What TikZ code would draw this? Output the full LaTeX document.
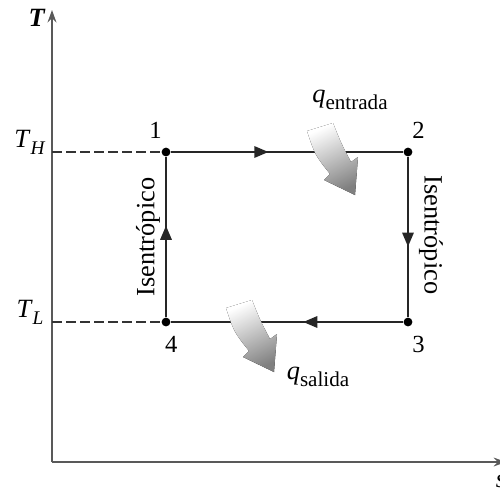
\documentclass[tikz,border=0pt]{standalone}
\usepackage{fontspec}
\setmainfont{Liberation Serif}
\usetikzlibrary{arrows.meta, positioning, decorations.markings}

\tikzset{
    heatarrow/.pic={
        \fill[heat] (-48,-64) .. controls (-40,-40) .. (-25,-21) -- (-31,-15) -- (0,0) -- (3,-38) -- (-4,-33) .. controls (-14,-52) .. (-22,-72) -- cycle;
    },
}

\begin{document}
\begin{tikzpicture}[x=0.02cm, y=-0.02cm,
    line/.style={line width=1.1pt, black!85},
    axis/.style={line width=1.1pt, black!65, -{Stealth[length=7pt, width=5pt]}},
    guide/.style={line width=0.9pt, black!80, dash pattern=on 5.5pt off 2.5pt},
    dot/.style={circle, fill=black, inner sep=0pt, minimum size=5pt},
    num/.style={font=\fontsize{14}{16}\selectfont, inner sep=1pt},
    lbl/.style={font=\fontsize{15}{17}\selectfont, inner sep=1pt},
    mid/.style={postaction={decorate, decoration={markings, mark=at position #1 with {\arrow{Triangle[length=8pt, width=6.5pt]}}}}},
    heat/.style={top color=white, bottom color=black!50, shading angle=25},
]
\useasboundingbox (0,0) rectangle (500,491);

\coordinate (o) at (52,462);
\coordinate (ytop) at (52,10);
\coordinate (xend) at (506,462);
\draw[axis] (o) -- (ytop);
\draw[axis] (o) -- (xend);
\node[lbl] (T) at (37,18) {\textbf{\textit{T}}};
\node[lbl] (s) at (501,481) {\textit{s}};

\node[dot] (p1) at (166,152) {};
\node[dot] (p2) at (408,152) {};
\node[dot] (p3) at (408,322) {};
\node[dot] (p4) at (166,322) {};

\draw[guide] (ytop |- p1) -- (p1);
\draw[guide] (ytop |- p4) -- (p4);
\node[lbl] (TH) at (30,142) {\textit{T}\raisebox{-4pt}{\fontsize{11}{12}\selectfont\textit{H}}};
\node[lbl] (TL) at (30,312) {\textit{T}\raisebox{-4pt}{\fontsize{11}{12}\selectfont\textit{L}}};

\draw[line, mid=0.42] (p1) -- (p2);
\draw[line, mid=0.56] (p2) -- (p3);
\draw[line, mid=0.43] (p3) -- (p4);
\draw[line, mid=0.57] (p4) -- (p1);

\pic (qin) at (355,195) {heatarrow};
\pic (qout) at (274,372) {heatarrow};

\node[num, above=4pt of p1, xshift=-6pt] (n1) {1};
\node[num, above=4pt of p2, xshift=6pt] (n2) {2};
\node[num, below=4pt of p3, xshift=6pt] (n3) {3};
\node[num, below=4pt of p4, xshift=3pt] (n4) {4};

\node[lbl, rotate=90] (isenL) at (148,237) {Isentrópico};
\node[lbl, rotate=-90] (isenR) at (431,235) {Isentrópico};

\node[lbl] (qentrada) at (350,100) {\textit{q}\raisebox{-4pt}{\fontsize{12}{13}\selectfont entrada}};
\node[lbl] (qsalida) at (318,377) {\textit{q}\raisebox{-4pt}{\fontsize{12}{13}\selectfont salida}};
\end{tikzpicture}
\end{document}
